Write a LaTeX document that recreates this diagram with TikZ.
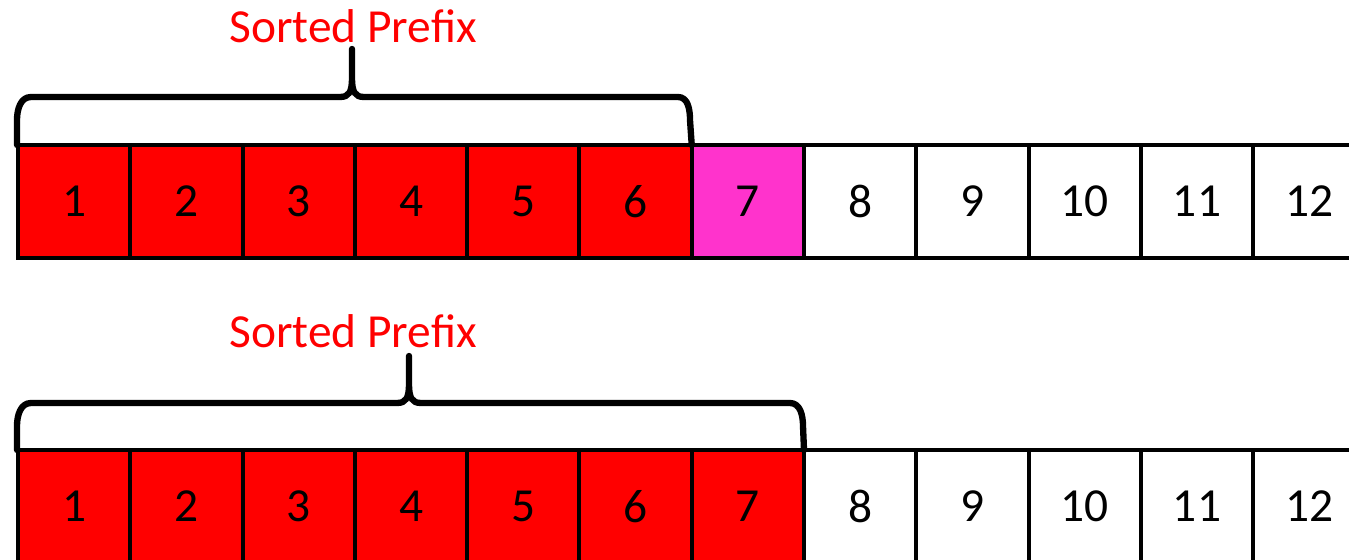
\documentclass[tikz,border=0pt]{standalone}
\usepackage{fontspec}
\setmainfont{Carlito}
\usetikzlibrary{positioning, calc}
\definecolor{sortred}{HTML}{FF0000}
\definecolor{keypink}{HTML}{FF33CC}
\tikzset{
  cell/.style={
    draw=black,
    line width=2.3pt,
    outer sep=0pt,
    inner sep=0pt,
    minimum width=2.246cm,
    minimum height=2.26cm,
    font=\fontsize{27}{30}\selectfont
  },
  sorted cell/.style={cell, fill=sortred},
  key cell/.style={cell, fill=keypink},
  prefix brace/.style={
    line width=3.6pt,
    line join=round,
    line cap=round
  },
  prefix label/.style={
    text=sortred,
    anchor=base,
    inner sep=0pt,
    font=\fontsize{27}{30}\selectfont
  }
}

\begin{document}
\begin{tikzpicture}[x=0.02cm, y=-0.02cm, node distance=0pt]
  \useasboundingbox (0,0) rectangle (1349,560);
  \clip (0,0) rectangle (1349,560);

  % before inserting 7
  \node[sorted cell] (t1) at (74.2,201.5) {1};
  \foreach \i [evaluate=\i as \prev using int(\i-1)] in {2,...,6}
    \node[sorted cell, right=of t\prev] (t\i) {\i};
  \node[key cell, right=of t6] (t7) {7};
  \foreach \i [evaluate=\i as \prev using int(\i-1)] in {8,...,12}
    \node[cell, right=of t\prev] (t\i) {\i};

  % after inserting 7
  \node[sorted cell] (b1) at (74.2,506.5) {1};
  \foreach \i [evaluate=\i as \prev using int(\i-1)] in {2,...,7}
    \node[sorted cell, right=of b\prev] (b\i) {\i};
  \foreach \i [evaluate=\i as \prev using int(\i-1)] in {8,...,12}
    \node[cell, right=of b\prev] (b\i) {\i};

  % braces
  \draw[prefix brace] ($(t1.north west)+(-1,0)$) -- (17,120)
    to[out=90,in=180] (31,97) -- (340,97)
    .. controls (349,97) and (352,92) .. (352,78) -- (352,49) -- (352,78)
    .. controls (352,92) and (355,97) .. (364,97) -- (678,97)
    to[out=0,in=90] (690,120) -- (t6.north east);
  \draw[prefix brace] ($(b1.north west)+(-1,0)$) -- (17,426)
    to[out=90,in=180] (31,403) -- (397,403)
    .. controls (406,403) and (409,398) .. (409,384) -- (409,356) -- (409,384)
    .. controls (409,398) and (412,403) .. (421,403) -- (790,403)
    to[out=0,in=90] (803,426) -- (b7.north east);

  \node[prefix label] (toplabel) at (353,43) {Sorted Prefix};
  \node[prefix label] (botlabel) at (353,348) {Sorted Prefix};
\end{tikzpicture}
\end{document}
